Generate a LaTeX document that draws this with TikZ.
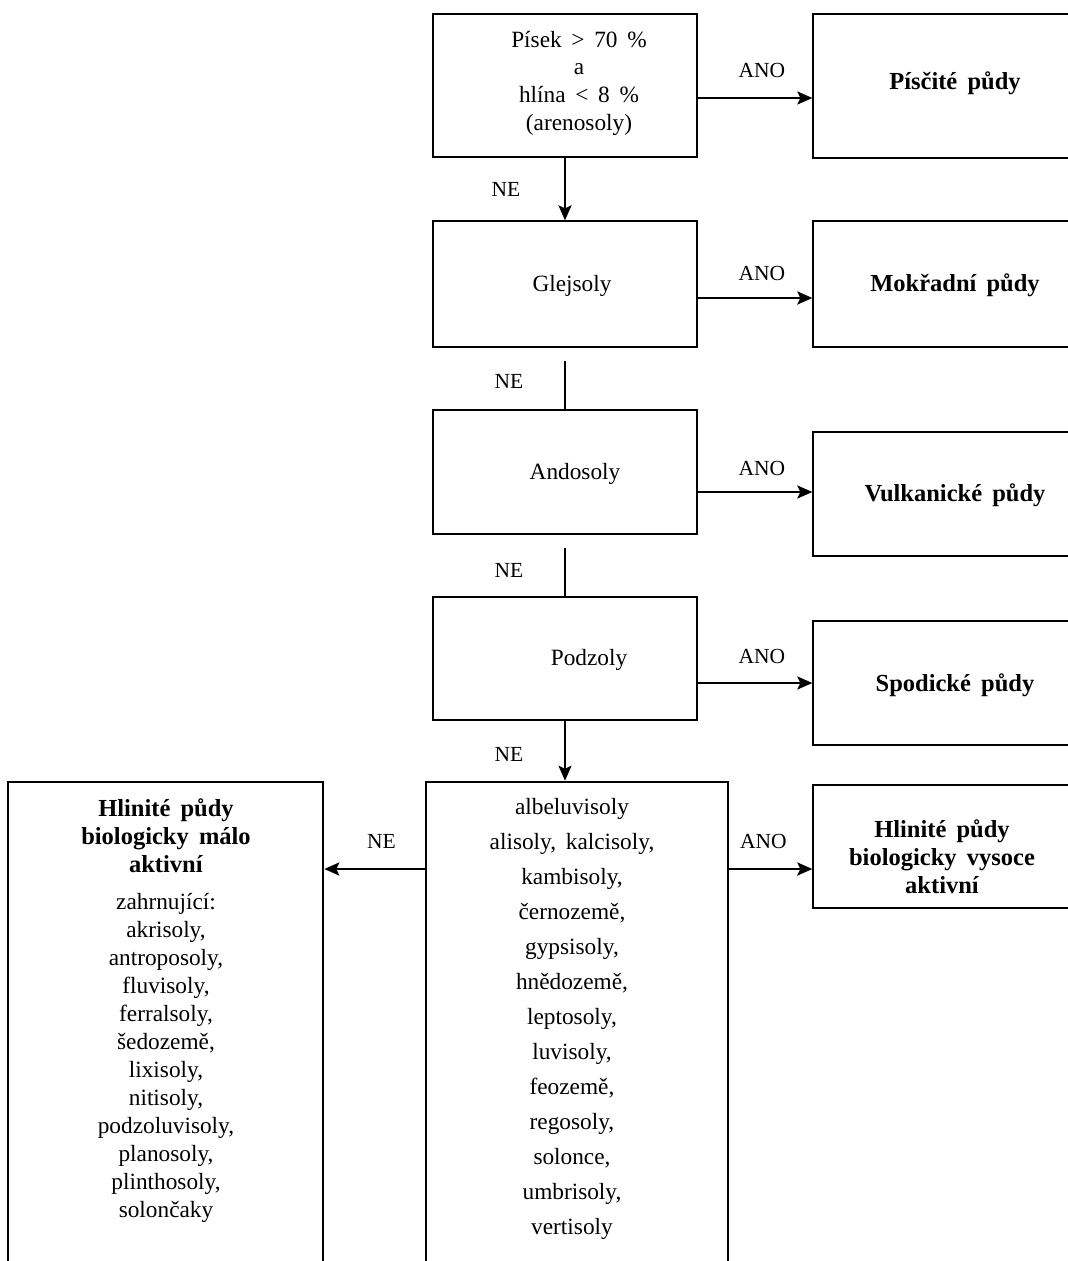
\documentclass[tikz,border=0pt]{standalone}
\usepackage{fontspec}
\setmainfont{Liberation Serif}
\usetikzlibrary{arrows.meta}
\begin{document}
\begin{tikzpicture}[x=1pt,y=-1pt,
  thinbox/.style={draw, line width=1.3pt, inner sep=0pt, rectangle},
  thickbox/.style={draw, line width=2.6pt, inner sep=0pt, rectangle},
  txt/.style={font=\fontsize{23.3}{27.7}\selectfont, align=center, inner sep=0pt},
  midtxt/.style={font=\fontsize{23.3}{35}\selectfont, align=center, inner sep=0pt},
  lefttxt/.style={font=\fontsize{23.3}{28}\selectfont, align=center, inner sep=0pt},
  btxt/.style={font=\fontsize{24.5}{28}\selectfont\bfseries, align=center, inner sep=0pt},
  arr/.style={line width=2pt, -{Stealth[length=15pt,width=13pt,inset=3pt]}},
  lbl/.style={font=\fontsize{21.5}{24}\selectfont, inner sep=0pt},
]
\useasboundingbox (0,0) rectangle (1068,1261);
\fill[white] (0,0) rectangle (1068,1261);
\clip (0,0) rectangle (1068,1261);

% left column of decision boxes
\node[thinbox, minimum width=264pt, minimum height=143pt] (b1) at (565,85.5) {};
\node[txt] (t1) at (579,83) {Písek \,>\, 70 \,\%\\a\\hlína \,<\, 8 \,\%\\(arenosoly)};
\node[thinbox, minimum width=264pt, minimum height=126pt] (b2) at (565,284) {};
\node[txt] (t2) at (572,286) {Glejsoly};
\node[thinbox, minimum width=264pt, minimum height=124pt] (b3) at (565,472) {};
\node[txt] (t3) at (575,474) {Andosoly};
\node[thinbox, minimum width=264pt, minimum height=123pt] (b4) at (565,658.5) {};
\node[txt] (t4) at (589,660) {Podzoly};

% right result boxes
\node[thinbox, minimum width=284pt, minimum height=144pt] (r1) at (955,86) {};
\node[btxt] (s1) at (955,83) {Písčité \,půdy};
\node[thinbox, minimum width=284pt, minimum height=126pt] (r2) at (955,284) {};
\node[btxt] (s2) at (955,285) {Mokřadní \,půdy};
\node[thinbox, minimum width=284pt, minimum height=124pt] (r3) at (955,494) {};
\node[btxt] (s3) at (955,495) {Vulkanické \,půdy};
\node[thinbox, minimum width=284pt, minimum height=124pt] (r4) at (955,683) {};
\node[btxt] (s4) at (955,685) {Spodické \,půdy};
\node[thinbox, minimum width=258pt, minimum height=123pt] (r5) at (942,846.5) {};
\node[btxt] (s5) at (942,857) {Hlinité \,půdy\\biologicky \,vysoce\\aktivní};

% bottom large boxes
\node[thickbox, minimum width=302pt, minimum height=498pt] (mid) at (577,1031) {};
\node[midtxt] (m) at (572,1019) {albeluvisoly\\alisoly, \,kalcisoly,\\kambisoly,\\černozemě,\\gypsisoly,\\hnědozemě,\\leptosoly,\\luvisoly,\\feozemě,\\regosoly,\\solonce,\\umbrisoly,\\vertisoly};
\node[thickbox, minimum width=315pt, minimum height=498pt] (left) at (165.5,1031) {};
\node[lefttxt] (l) at (166,1011) {\textbf{\fontsize{24.5}{28}\selectfont Hlinité \,půdy}\\\textbf{\fontsize{24.5}{28}\selectfont biologicky \,málo}\\\textbf{\fontsize{24.5}{28}\selectfont aktivní}\\[9pt]zahrnující:\\akrisoly,\\antroposoly,\\fluvisoly,\\ferralsoly,\\šedozemě,\\lixisoly,\\nitisoly,\\podzoluvisoly,\\planosoly,\\plinthosoly,\\solončaky};

% ANO connectors
\draw[arr] (b1.east |- 0,98) -- (r1.west |- 0,98) node[lbl, pos=0.56, yshift=28pt] (a1) {ANO};
\draw[arr, line width=2.6pt] (b2.east |- 0,298) -- (r2.west |- 0,298) node[lbl, pos=0.56, yshift=25pt] (a2) {ANO};
\draw[arr] (b3.east |- 0,492) -- (r3.west |- 0,492) node[lbl, pos=0.56, yshift=24pt] (a3) {ANO};
\draw[arr] (b4.east |- 0,683) -- (r4.west |- 0,683) node[lbl, pos=0.56, yshift=27pt] (a4) {ANO};
\draw[arr, line width=2.6pt] (mid.east |- 0,869) -- (r5.west |- 0,869) node[lbl, pos=0.41, yshift=28pt] (a5) {ANO};

% NE connectors
\draw[arr] (b1.south) -- (b2.north) node[lbl, midway, xshift=-59pt] (n1) {NE};
\draw[line width=1.4pt] ([yshift=-13pt]b2.south) -- (b3.north) node[lbl, midway, xshift=-56pt, yshift=4pt] (n2) {NE};
\draw[line width=1.4pt] ([yshift=-13pt]b3.south) -- (b4.north) node[lbl, midway, xshift=-56pt, yshift=2pt] (n3) {NE};
\draw[arr] (b4.south) -- (b4.south |- mid.north) node[lbl, midway, xshift=-56pt, yshift=-4pt] (n4) {NE};
\draw[arr, line width=2.6pt] (mid.west |- 0,869) -- (left.east |- 0,869) node[lbl, pos=0.43, yshift=28pt] (n5) {NE};
\end{tikzpicture}
\end{document}
